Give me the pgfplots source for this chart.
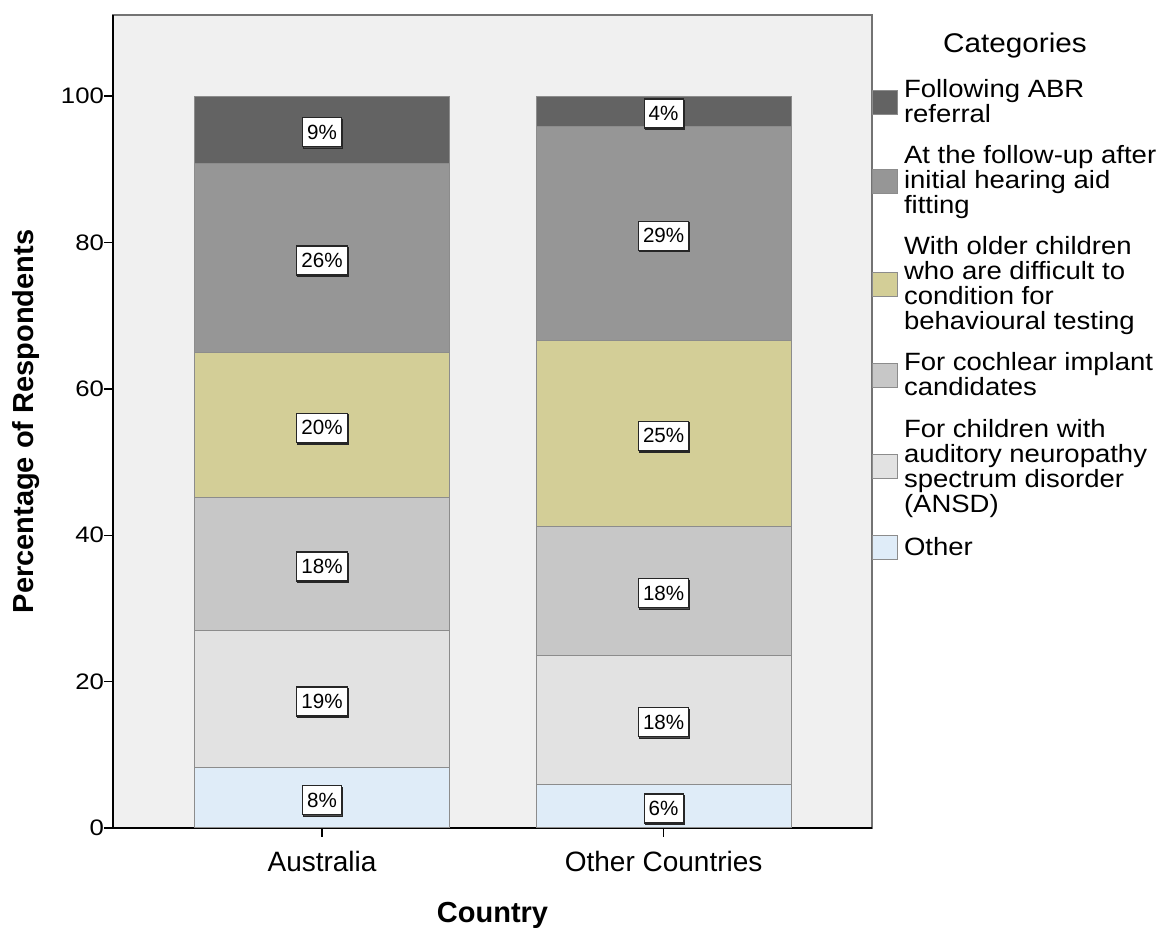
\documentclass[border=0pt]{standalone}
\usepackage{fontspec}
\setmainfont{Liberation Sans}
\newfontfamily\legfont{Liberation Sans}[FakeStretch=1.10]
\newfontfamily\tickfont{Liberation Sans}[FakeStretch=1.15]
\usepackage{pgfplots}
\pgfplotsset{compat=1.18}
\usepackage{pgfplotstable}
\usetikzlibrary{shadows}

\definecolor{cABR}{HTML}{636363}
\definecolor{cFollow}{HTML}{969696}
\definecolor{cOlder}{HTML}{D3CE97}
\definecolor{cCI}{HTML}{C7C7C7}
\definecolor{cANSD}{HTML}{E2E2E2}
\definecolor{cOther}{HTML}{DFECF8}
\definecolor{bgcol}{HTML}{F0F0F0}
\definecolor{edgecol}{HTML}{8C8C8C}

\pgfplotstableread{
x Other ANSD CI Older Follow ABR
0 8.2 18.8 18.1 19.8 25.9 9.2
1 6.0 17.6 17.6 25.4 29.3 4.1
}\datatable

\begin{document}
\begin{tikzpicture}
\useasboundingbox (-56.5pt,-51pt) rectangle (524.5pt,414pt);
\begin{axis}[
  scale only axis,
  width=379.5pt, height=406.5pt,
  at={(0pt,0pt)}, anchor=south west,
  ybar stacked,
  bar width=127.5pt,
  xmin=-0.612, xmax=1.61,
  ymin=0, ymax=111.07,
  xtick={0,1},
  xticklabels={Australia, Other Countries},
  ytick={0,20,40,60,80,100},
  axis x line*=bottom, axis y line*=left,
  tick align=outside,
  major tick length=4.5pt,
  tick style={black, line width=0.7pt},
  axis line style={black, line width=0.9pt},
  axis background/.style={fill=bgcol, draw=black!55, line width=0.9pt},
  /pgf/number format/assume math mode=true,
  xticklabel style={font=\fontsize{14}{16}\selectfont, yshift=-3.5pt},
  yticklabel style={font=\tickfont\fontsize{11.2}{13}\selectfont, xshift=3.5pt},
  every axis y label/.style={at={(axis description cs:-0.1146,0.5)}, rotate=90, anchor=center, font=\bfseries\fontsize{14.5}{17}\selectfont},
  every axis x label/.style={at={(axis description cs:0.5,-0.107)}, anchor=center, font=\bfseries\fontsize{14.5}{17}\selectfont},
  xlabel={Country},
  ylabel={Percentage of Respondents},
  point meta=explicit,
  nodes near coords={\pgfmathprintnumber[fixed,precision=0]{\pgfplotspointmeta}\%},
  every node near coord/.style={yshift=-1.2pt, anchor=center,
     fill=white, draw=black!85, line width=0.6pt, text=black, font=\fontsize{10.3}{12}\selectfont,
     inner xsep=2.3pt, inner ysep=0pt, minimum height=14.5pt,
     drop shadow={shadow xshift=0.5pt, shadow yshift=-0.8pt, fill=black!70, opacity=1}},
  clip=false,
  legend style={at={(1,0.9207)}, anchor=north west, draw=none, fill=none, inner sep=0pt, outer sep=0pt,
     row sep=10pt, font=\legfont\fontsize{12.5}{12.5}\selectfont,
     cells={anchor=west, align=left}, nodes={inner sep=0pt}},
  reverse legend,
  legend image code/.code={\draw[#1, draw=edgecol, line width=0.5pt] (0pt,-6pt) rectangle (12.5pt,6pt); \path (15.5pt,0pt);},
]
\addplot[fill=cOther, draw=edgecol, line width=0.5pt] table[x=x, y=Other, meta=Other] {\datatable};
\addlegendentry{Other}
\addplot[fill=cANSD, draw=edgecol, line width=0.5pt] table[x=x, y=ANSD, meta=ANSD] {\datatable};
\addlegendentry{For children with\\auditory neuropathy\\spectrum disorder\\(ANSD)}
\addplot[fill=cCI, draw=edgecol, line width=0.5pt] table[x=x, y=CI, meta=CI] {\datatable};
\addlegendentry{For cochlear implant\\candidates}
\addplot[fill=cOlder, draw=edgecol, line width=0.5pt] table[x=x, y=Older, meta=Older] {\datatable};
\addlegendentry{With older children\\who are difficult to\\condition for\\behavioural testing}
\addplot[fill=cFollow, draw=edgecol, line width=0.5pt] table[x=x, y=Follow, meta=Follow] {\datatable};
\addlegendentry{At the follow-up after\\initial hearing aid\\fitting}
\addplot[fill=cABR, draw=edgecol, line width=0.5pt] table[x=x, y=ABR, meta=ABR] {\datatable};
\addlegendentry{Following ABR\\referral}
\node[anchor=center, font=\legfont\fontsize{13.5}{15}\selectfont] at (axis description cs:1.1884,0.963) {Categories};
\end{axis}
\end{tikzpicture}
\end{document}
